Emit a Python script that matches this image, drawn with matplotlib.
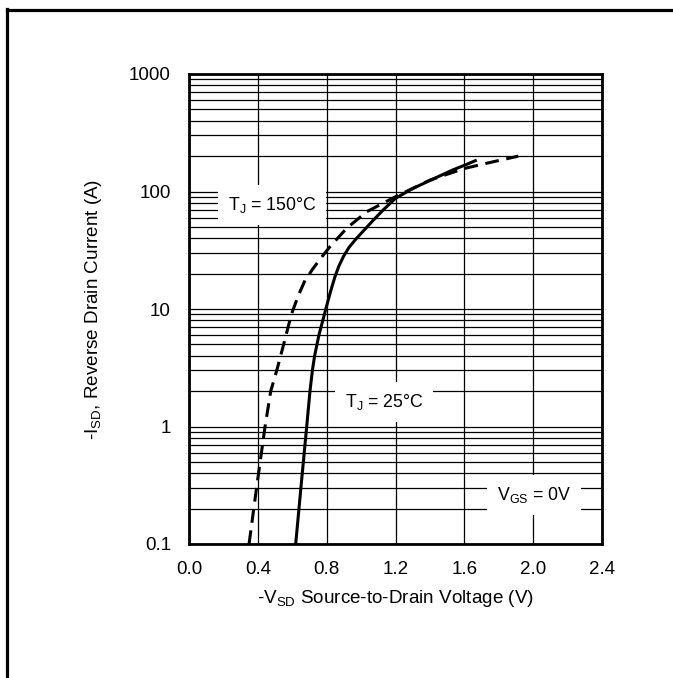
import numpy as np
import matplotlib as mpl
mpl.use("Agg")
import matplotlib.pyplot as plt
from matplotlib.ticker import FixedLocator, LogLocator, FuncFormatter, NullFormatter

plt.rcParams['font.family'] = ['Liberation Sans', 'DejaVu Sans']
plt.rcParams['mathtext.fontset'] = 'custom'
plt.rcParams['mathtext.rm'] = 'Liberation Sans'
plt.rcParams['mathtext.it'] = 'Liberation Sans'
plt.rcParams['mathtext.default'] = 'regular'

## Curves (V, A)
v_25c = [0.62, 0.652, 0.684, 0.703, 0.717, 0.73, 0.755, 0.795, 0.822, 0.848, 0.87, 0.897, 0.93,
         0.974, 1.071, 1.13, 1.2, 1.3, 1.42, 1.53, 1.6, 1.672]
i_25c = [0.1, 0.32, 1.0, 2.0, 3.0, 4.0, 6.0, 10.0, 14.0, 18.8, 23.0, 27.9, 33.5,
         40.0, 57.0, 70.0, 87.5, 106.0, 128.0, 152.0, 167.0, 185.0]

v_150c = [0.349, 0.395, 0.442, 0.475, 0.51, 0.55, 0.595, 0.635, 0.674, 0.72, 0.761, 0.819, 0.916,
          1.033, 1.2, 1.4, 1.6, 1.73, 1.914]
i_150c = [0.1, 0.32, 1.0, 2.0, 3.0, 5.0, 9.0, 13.0, 17.5, 22.0, 26.5, 33.9, 48.6,
          67.3, 90.3, 125.0, 157.0, 174.0, 200.0]

x_ticks = [0.0, 0.4, 0.8, 1.2, 1.6, 2.0, 2.4]
y_ticks = [0.1, 1, 10, 100, 1000]
y_tick_labels = ['0.1', '1', '10', '100', '1000']

fig = plt.figure(figsize=(6.73, 6.78), dpi=100)
ax = fig.add_axes([189/673, 134/678, 413/673, 470/678])

ax.plot(v_25c, i_25c, color='black', lw=2.2, solid_capstyle='butt', solid_joinstyle='round', zorder=3)
ax.plot(v_150c, i_150c, color='black', lw=2.2, dashes=(4.5, 2.5), zorder=3)

ax.set_yscale('log')
ax.set_xlim(0, 2.4)
ax.set_ylim(0.1, 1000)

ax.xaxis.set_major_locator(FixedLocator(x_ticks))
ax.xaxis.set_major_formatter(FuncFormatter(lambda v, p: '%.1f' % v))
ax.yaxis.set_major_locator(FixedLocator(y_ticks))
ax.yaxis.set_major_formatter(FuncFormatter(lambda v, p: y_tick_labels[y_ticks.index(v)] if v in y_ticks else ''))
ax.yaxis.set_minor_locator(LogLocator(base=10, subs=np.arange(2, 10)))
ax.yaxis.set_minor_formatter(NullFormatter())

ax.grid(True, which='both', axis='y', color='black', lw=0.9)
ax.grid(True, which='major', axis='x', color='black', lw=0.9)
ax.set_axisbelow(True)
ax.tick_params(which='both', length=0, labelsize=13.5)
ax.tick_params(axis='x', pad=12)
ax.tick_params(axis='y', pad=13)
for s in ax.spines.values():
	s.set_linewidth(2.0)

ax.set_xlabel('-V$_{SD}$ Source-to-Drain Voltage (V)', fontsize=13.6)
ax.xaxis.set_label_coords(0.5, -0.0926)
ax.set_ylabel('-I$_{SD}$, Reverse Drain Current (A)', fontsize=13.6)
ax.yaxis.set_label_coords(-0.205, 0.5)

box = dict(boxstyle='square,pad=0.55', fc='white', ec='none')
ax.text(0.482, 76.7, 'T$_J$ = 150°C', fontsize=12.8, ha='center', va='center', bbox=box, zorder=2)
ax.text(1.133, 1.62, 'T$_J$ = 25°C', fontsize=12.8, ha='center', va='center', bbox=box, zorder=2)
ax.text(2.005, 0.261, 'V$_{GS}$ = 0V', fontsize=12.8, ha='center', va='center', bbox=box, zorder=2)

## outer frame (left and top edges only)
fig.add_artist(plt.Line2D([7/673, 7/673], [0, 1 - 9/678], transform=fig.transFigure, color='black', lw=2.3))
fig.add_artist(plt.Line2D([7/673, 1], [1 - 10/678, 1 - 10/678], transform=fig.transFigure, color='black', lw=2.3))

fig.savefig('out.png', dpi=100)
